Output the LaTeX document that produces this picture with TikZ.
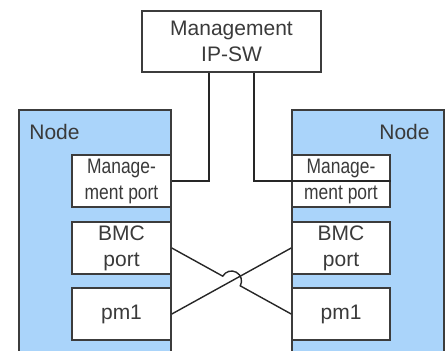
\documentclass[tikz,border=0pt]{standalone}
\usepackage{fontspec}
\setmainfont{Liberation Sans}
\newfontfamily\narrowfont[FakeStretch=0.83]{Liberation Sans}
\usetikzlibrary{calc}
\definecolor{panelblue}{HTML}{AAD4FA}
\definecolor{edgegray}{HTML}{3C3C3C}
\definecolor{txtgray}{HTML}{3A3A3A}
\begin{document}
\begin{tikzpicture}[x=0.5pt,y=0.5pt,
  panel/.style={draw=edgegray,fill=panelblue,line width=0.7pt},
  box/.style={draw=edgegray,fill=white,line width=0.8pt,inner sep=0pt,
    text=txtgray,align=center,font=\fontsize{10.5}{13}\selectfont},
  lbl/.style={text=txtgray,font=\fontsize{10.5}{13}\selectfont,inner sep=0pt},
  wire/.style={draw=black!85,line width=0.7pt}]
\useasboundingbox (0,0) rectangle (448,350);
\clip (0,0) rectangle (448,350);
% panels
\path[panel] (19,240) rectangle (171,-5);
\path[panel] (292,240) rectangle (444,-5);
\node[lbl,anchor=base west] (nl) at (29,211) {Node};
\node[lbl,anchor=base east] (nr) at (430,211) {Node};
% switch
\node[box,minimum width=89.5pt,minimum height=30.5pt] (sw) at (231.5,308.5) {Management\\IP-SW};
% left ports
\node[box,minimum width=49.5pt,minimum height=26pt,font=\narrowfont\fontsize{10.5}{13}\selectfont] (lm) at (121.5,169) {Manage-\\ment port};
\node[box,minimum width=49.5pt,minimum height=26pt] (lb) at (121.5,102) {BMC\\port};
\node[box,minimum width=49.5pt,minimum height=26pt] (lp) at (121.5,36) {pm1};
% right ports
\node[box,minimum width=49pt,minimum height=26pt,font=\narrowfont\fontsize{10.5}{13}\selectfont] (rm) at (341,169) {Manage-\\ment port};
\node[box,minimum width=49pt,minimum height=26pt] (rb) at (341,102) {BMC\\port};
\node[box,minimum width=49pt,minimum height=26pt] (rp) at (341,36) {pm1};
% switch links
\draw[wire] (sw.south -| 209,0) |- (lm.east);
\draw[wire] (sw.south -| 254,0) |- (rm.east);
% crossing links
\draw[wire] (rb.west) -- (lp.east);
\coordinate (X) at (intersection of lb.east--rp.west and rb.west--lp.east);
\draw[wire] let \p1=($(rp.west)-(lb.east)$), \n1={atan2(\y1,\x1)} in
  (lb.east) -- ($(X)!5pt!(lb.east)$)
  arc[start angle=\n1+180, end angle=\n1, radius=5pt]
  -- (rp.west);
\end{tikzpicture}
\end{document}
